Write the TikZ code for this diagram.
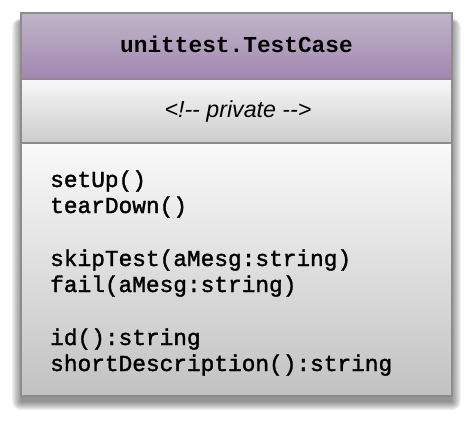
\documentclass[tikz,border=0pt]{standalone}
\usepackage{fontspec}
\setsansfont{Liberation Sans}
\newfontfamily\titlefont{Liberation Mono}
\newfontfamily\methfont{Liberation Mono}[FakeBold=1.6]
\usepackage{xcolor}
\usetikzlibrary{positioning,calc}

\definecolor{headtop}{RGB}{192,182,200}
\definecolor{headbot}{RGB}{162,134,176}
\definecolor{bordergray}{RGB}{140,140,140}

\tikzset{
  compart/.style={draw=bordergray, line width=1.2pt},
  methline/.style={anchor=base west, inner sep=0pt, font=\methfont\fontsize{22.8}{26}\selectfont},
}

\begin{document}
\begin{tikzpicture}[x=1pt,y=-1pt]
    \useasboundingbox (0,0) rectangle (474,425);
    \fill[white] (0,0) rectangle (474,425);

    % soft shadow under the class box
    \foreach \s in {0,1,...,9}
        \fill[black, opacity=0.05, rounded corners=\s pt] (21-\s,22-\s*0.4) rectangle (452+\s,402+\s*0.9);

    % class name compartment
    \shade[top color=headtop, bottom color=headbot] (21,13) rectangle (452,79);
    % private compartment
    \shade[top color=white!97!black, bottom color=white!80!black] (21,79) rectangle (452,143);
    % method compartment
    \shade[top color=white!98!black, bottom color=white!76!black] (21,143) rectangle (452,396);

    \draw[compart] (21,13) rectangle (452,396);
    \draw[compart] (21,79) -- (452,79);
    \draw[compart] (21,143) -- (452,143);

    \node[anchor=base, inner sep=0pt, font=\titlefont\bfseries\fontsize{22.8}{26}\selectfont] (name) at (236.5,53) {unittest.TestCase};
    \node[anchor=base, inner sep=0pt, font=\sffamily\itshape\fontsize{23.2}{26}\selectfont] (priv) at (238,118) {<!-{}- private -{}->};

    % methods
    \node[methline] (setup) at (50,187) {setUp()};
    \node[methline] (teardown) at ($(setup.base west)+(0,26)$) {tearDown()};
    \node[methline] (skip) at (50,266) {skipTest(aMesg:string)};
    \node[methline] (fail) at ($(skip.base west)+(0,26)$) {fail(aMesg:string)};
    \node[methline] (ident) at (50,345) {id():string};
    \node[methline] (short) at ($(ident.base west)+(0,26)$) {shortDescription():string};
\end{tikzpicture}
\end{document}
